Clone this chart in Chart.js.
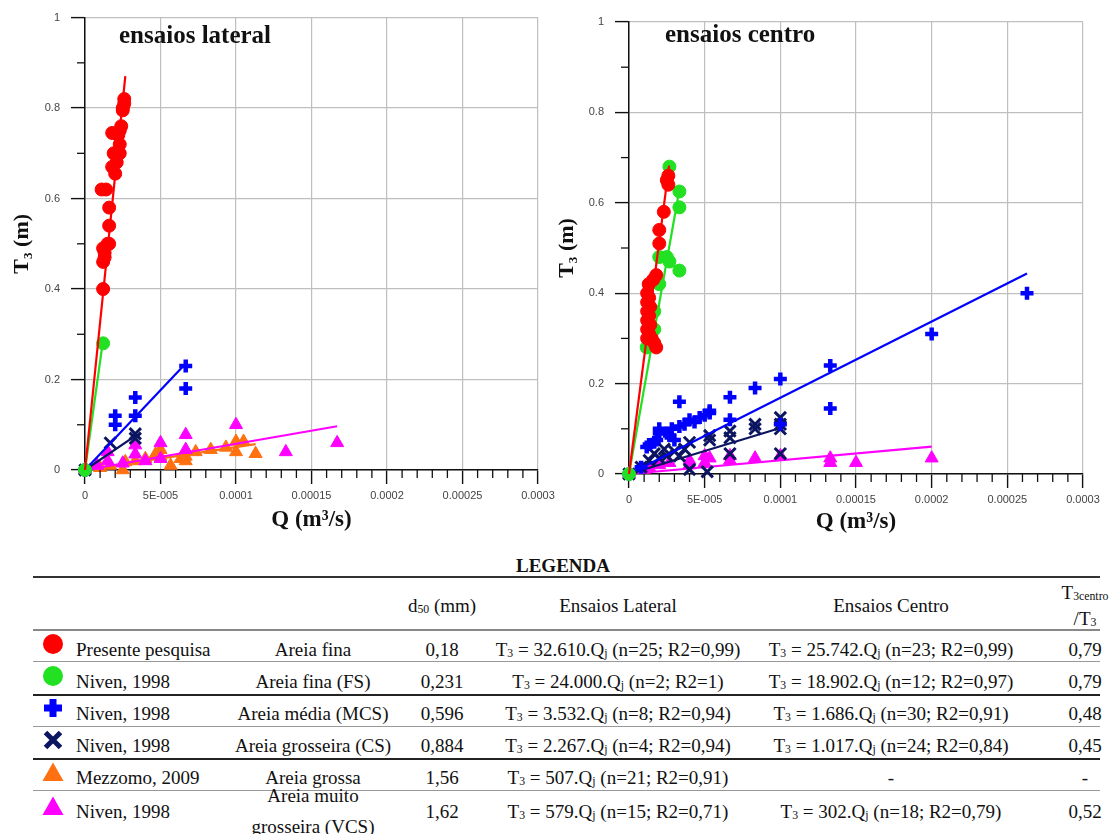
<!DOCTYPE html>
<html><head><meta charset="utf-8">
<script src="https://cdn.jsdelivr.net/npm/chart.js@4.4.1/dist/chart.umd.min.js"></script>
<style>
body{margin:0;background:#fff;width:1109px;height:834px;overflow:hidden;position:relative;font-family:'Liberation Serif','Times New Roman',serif;color:#111}
canvas{position:absolute;top:0}
#cL{left:0}
#cR{left:545px}
.ttl{position:absolute;font-weight:bold;font-size:25px;line-height:25px;white-space:nowrap}
.cell{position:absolute;font-size:19px;line-height:31px;white-space:nowrap;transform:translate(-50%,-50%);text-align:center}
.left{transform:translate(0,-50%);text-align:left}
.rule{position:absolute;left:33px;width:1067px}
sub{font-size:62%;vertical-align:-0.12em;line-height:0}
.mk{position:absolute;transform:translate(-50%,-50%)}
</style></head>
<body>
<canvas id="cL" width="560" height="545"></canvas>
<canvas id="cR" width="564" height="545"></canvas>
<div class="ttl" style="left:119px;top:22px">ensaios lateral</div>
<div class="ttl" style="left:665px;top:21px">ensaios centro</div>
<div id="legend"></div>
<script>
// ---------------- DATA ----------------
const yTickLabels = ['0','0.2','0.4','0.6','0.8','1'];
const xTickLabels = ['0','5E-005','0.0001','0.00015','0.0002','0.00025','0.0003'];

// ensaios lateral  (Q in m3/s, T3 in m)
const latPresenteQ = [1.2e-5,1.2e-5,1.3e-5,1.2e-5,1.5e-5,1.6e-5,1.3e-5,1.6e-5,1.6e-5,1.1e-5,1.4e-5,2.0e-5,1.8e-5,2.1e-5,1.9e-5,2.3e-5,1.8e-5,2.3e-5,2.2e-5,2.4e-5,2.3e-5,2.5e-5,2.6e-5,2.6e-5,2.5e-5];
const latPresenteT = [0.40,0.46,0.47,0.49,0.50,0.50,0.48,0.54,0.58,0.62,0.62,0.655,0.67,0.68,0.70,0.70,0.745,0.72,0.74,0.76,0.75,0.80,0.81,0.82,0.795];
const latFinaQ = [0,1.2e-5];
const latFinaT = [0,0.28];
const latMediaQ = [0,2e-5,2e-5,3.33e-5,3.33e-5,6.67e-5,6.67e-5,0];
const latMediaT = [0,0.12,0.10,0.16,0.12,0.23,0.18,0];
const latGrosseiraQ = [0,1.67e-5,3.33e-5,3.33e-5];
const latGrosseiraT = [0,0.06,0.08,0.07];
const latGrossaQ = [0,1.0e-5,1.67e-5,2.5e-5,2.67e-5,3.33e-5,4.0e-5,4.67e-5,5.0e-5,5.0e-5,5.67e-5,6.33e-5,6.67e-5,6.67e-5,7.33e-5,8.33e-5,9.33e-5,1.0e-4,1.0e-4,1.05e-4,1.13e-4];
const latGrossaT = [0,0.005,0.01,0.0,0.018,0.02,0.025,0.035,0.045,0.03,0.01,0.025,0.02,0.03,0.04,0.045,0.05,0.04,0.063,0.063,0.036];
const latMuitoQ = [0,8e-6,1.5e-5,1.5e-5,2.5e-5,3.33e-5,3.33e-5,5e-5,5e-5,6.67e-5,6.67e-5,1e-4,1.33e-4,1.67e-4,4e-5];
const latMuitoT = [0,0.01,0.02,0.04,0.015,0.055,0.035,0.06,0.025,0.078,0.045,0.10,0.04,0.06,0.02];

// ensaios centro
const cenPresenteQ = [2.6e-5,2.6e-5,2.5e-5,2.3e-5,2.0e-5,2.0e-5,1.8e-5,1.6e-5,1.3e-5,1.2e-5,1.33e-5,1.2e-5,1.4e-5,1.2e-5,1.33e-5,1.2e-5,1.4e-5,1.2e-5,1.33e-5,1.5e-5,1.2e-5,1.8e-5,1.67e-5];
const cenPresenteT = [0.66,0.64,0.65,0.58,0.54,0.51,0.44,0.43,0.42,0.40,0.39,0.38,0.37,0.36,0.35,0.34,0.33,0.32,0.31,0.30,0.30,0.28,0.29];
const cenFinaQ = [0,1.17e-5,1.67e-5,1.67e-5,2e-5,2e-5,2.5e-5,2.67e-5,3.33e-5,3.33e-5,3.33e-5,2.67e-5];
const cenFinaT = [0,0.28,0.32,0.36,0.42,0.48,0.48,0.47,0.45,0.59,0.625,0.68];
const cenMediaQ = [0,1.17e-5,1.33e-5,1.67e-5,1.83e-5,2.0e-5,2.0e-5,2.5e-5,2.67e-5,2.83e-5,3.33e-5,3.33e-5,3.0e-5,3.67e-5,4.0e-5,4.33e-5,4.67e-5,5.0e-5,5.33e-5,5.33e-5,6.67e-5,6.67e-5,8.33e-5,1.0e-4,1.0e-4,1.33e-4,1.33e-4,2.0e-4,2.63e-4,8e-6];
const cenMediaT = [0,0.06,0.065,0.07,0.075,0.10,0.09,0.09,0.085,0.10,0.105,0.16,0.075,0.11,0.12,0.115,0.125,0.13,0.135,0.14,0.12,0.17,0.19,0.21,0.11,0.24,0.145,0.31,0.40,0.015];
const cenGrosseiraQ = [0,8e-6,1.33e-5,1.67e-5,2.0e-5,2.33e-5,2.5e-5,3.0e-5,3.33e-5,3.67e-5,4.0e-5,4.0e-5,5.33e-5,5.33e-5,5.17e-5,6.67e-5,6.67e-5,6.67e-5,8.33e-5,8.33e-5,1.0e-4,1.0e-4,1.0e-4,1.0e-4];
const cenGrosseiraT = [0,0.015,0.03,0.045,0.035,0.055,0.04,0.05,0.04,0.055,0.07,0.01,0.085,0.075,0.005,0.095,0.08,0.045,0.11,0.10,0.125,0.11,0.10,0.045];
const cenMuitoQ = [0,1e-5,1.33e-5,2e-5,2.67e-5,4e-5,4e-5,5e-5,5.33e-5,5e-5,6.67e-5,6.67e-5,8.33e-5,1e-4,1.33e-4,1.33e-4,1.5e-4,2e-4];
const cenMuitoT = [0,0.01,0.015,0.02,0.025,0.03,0.02,0.04,0.035,0.025,0.04,0.03,0.035,0.04,0.035,0.025,0.025,0.035];

// regression lines T3 = a.Q (from the legend) and Q extent of each drawn line
const lateralSlope  = [32610, 24000, 3532, 2267, 507, 579];
const lateralFitQmax = [2.67e-5, 1.17e-5, 6.67e-5, 3.33e-5, 1.13e-4, 1.67e-4];
const centroSlope   = [25742, 18902, 1686, 1017, null, 302];
const centroFitQmax = [2.65e-5, 3.33e-5, 2.63e-4, 1.0e-4, null, 2.0e-4];

// legend table text
const legendSource = ['Presente pesquisa','Niven, 1998','Niven, 1998','Niven, 1998','Mezzomo, 2009','Niven, 1998'];
const legendSoil = ['Areia fina','Areia fina (FS)','Areia média (MCS)','Areia grosseira (CS)','Areia grossa','Areia muito<br>grosseira (VCS)'];
const legendD50 = ['0,18','0,231','0,596','0,884','1,56','1,62'];
const lateralCoef = ['32.610','24.000','3.532','2.267','507','579'];
const lateralN = [25,2,8,4,21,15];
const lateralR2 = ['0,99','1','0,94','0,94','0,91','0,71'];
const centroCoef = ['25.742','18.902','1.686','1.017',null,'302'];
const centroN = [23,12,30,24,null,18];
const centroR2 = ['0,99','0,97','0,91','0,84',null,'0,79'];
const ratioCentroLateral = ['0,79','0,79','0,48','0,45','-','0,52'];

// ---------------- STYLE ----------------
const STY = [
  {color:'#ff0000', shape:'circle',   r:6.5, bw:1},
  {color:'#22e022', shape:'circle',   r:6.5, bw:1},
  {color:'#0000ff', shape:'cross',    r:6.5, bw:4.5},
  {color:'#0c1560', shape:'crossRot', r:8,   bw:3},
  {color:'#ff7010', shape:'triangle', r:7.5, bw:1},
  {color:'#ff00ff', shape:'triangle', r:7.5, bw:1}
];
const DRAW_ORDER = [0,1,2,3,5,4];
const GRID = '#bfbfbf';
const isMajorX = v => Math.round(v*1e5) % 5 === 0;
const isMajorY = v => Math.round(v*10) % 2 === 0;

const minorTicks = {
  id:'minorTicks',
  afterDraw(chart){
    const c = chart.ctx, a = chart.chartArea, sx = chart.scales.x, sy = chart.scales.y;
    c.save(); c.strokeStyle = '#111'; c.lineWidth = 1.3;
    sx.ticks.forEach(t => { if (!isMajorX(t.value)) { const p = sx.getPixelForValue(t.value); c.beginPath(); c.moveTo(p, a.bottom); c.lineTo(p, a.bottom + 8); c.stroke(); } });
    sy.ticks.forEach(t => { if (!isMajorY(t.value)) { const p = sy.getPixelForValue(t.value); c.beginPath(); c.moveTo(a.left - 8, p); c.lineTo(a.left, p); c.stroke(); } });
    c.restore();
  }
};

function pts(qs, ts){ return qs.map((q,i) => ({x:q, y:ts[i]})); }

function build(id, series, slopes, qmax, p){
  const ds = [];
  DRAW_ORDER.forEach(k => {
    const s = STY[k];
    ds.push({data: pts(series[k][0], series[k][1]), pointStyle: s.shape, pointRadius: s.r, pointHoverRadius: s.r,
      backgroundColor: s.color, borderColor: s.color, borderWidth: s.bw, showLine:false, clip:false});
    if (slopes[k] != null) {
      ds.push({data:[{x:0,y:0},{x:qmax[k], y:slopes[k]*qmax[k]}], showLine:true, borderColor:s.color,
        borderWidth:2.2, pointRadius:0, fill:false, clip:false});
    }
  });
  return new Chart(document.getElementById(id), {
    type:'scatter',
    data:{datasets: ds},
    plugins:[minorTicks],
    options:{
      responsive:false, animation:false, events:[],
      layout:{padding:{left:0, top:p.top, right:p.right, bottom:0}},
      plugins:{legend:{display:false}, tooltip:{enabled:false}},
      scales:{
        x:{type:'linear', position:'bottom', min:0, max:3e-4,
          afterFit: s => { s.height = p.xH; },
          border:{display:true, color:'#111', width:1.5},
          grid:{color: c => isMajorX(c.tick.value) ? GRID : 'rgba(0,0,0,0)', lineWidth:1.2,
                tickLength:14, tickWidth:1.4, tickColor: c => isMajorX(c.tick.value) ? '#111' : 'rgba(0,0,0,0)'},
          ticks:{stepSize:1e-5, autoSkip:false, maxRotation:0, minRotation:0, padding:5, color:'#444',
                 font:{family:'Liberation Sans', size:11},
                 callback: v => isMajorX(v) ? xTickLabels[Math.round(v*1e5)/5] : ''},
          title:{display:true, text:'Q (m³/s)', color:'#111',
                 font:{family:'Liberation Serif', size:23, weight:'bold'}, padding:{top:0,bottom:p.xTitlePad}}
        },
        y:{type:'linear', min:0, max:1,
          afterFit: s => { s.width = p.yW; },
          border:{display:true, color:'#111', width:1.5},
          grid:{color: c => isMajorY(c.tick.value) ? GRID : 'rgba(0,0,0,0)', lineWidth:1.2,
                tickLength:14, tickWidth:1.4, tickColor: c => isMajorY(c.tick.value) ? '#111' : 'rgba(0,0,0,0)'},
          ticks:{stepSize:0.1, autoSkip:false, padding:11, color:'#444',
                 font:{family:'Liberation Sans', size:11},
                 callback: v => isMajorY(v) ? yTickLabels[Math.round(v*5)] : ''},
          title:{display:true, text:'T₃ (m)', color:'#111',
                 font:{family:'Liberation Serif', size:22, weight:'bold'}, padding:{top:9,bottom:0}}
        }
      }
    }
  });
}

build('cL',
  [[latPresenteQ,latPresenteT],[latFinaQ,latFinaT],[latMediaQ,latMediaT],[latGrosseiraQ,latGrosseiraT],[latGrossaQ,latGrossaT],[latMuitoQ,latMuitoT]],
  lateralSlope, lateralFitQmax, {top:17, right:22, xH:75, yW:85, xTitlePad:11});
build('cR',
  [[cenPresenteQ,cenPresenteT],[cenFinaQ,cenFinaT],[cenMediaQ,cenMediaT],[cenGrosseiraQ,cenGrosseiraT],[[],[]],[cenMuitoQ,cenMuitoT]],
  centroSlope, centroFitQmax, {top:22, right:26, xH:71, yW:84, xTitlePad:9});

// ---------------- LEGEND TABLE ----------------
const ROW_Y = [649, 681, 713, 745, 777, 811];
const COL = {marker:53, name:76, soil:313, d50:442, lat:618, cen:891, ratio:1085};
function marker(k){
  const c = STY[k].color, s = STY[k].shape;
  let inner;
  if (s === 'circle') inner = `<circle cx="11" cy="11" r="10" fill="${c}"/>`;
  else if (s === 'cross') inner = `<path d="M11 2V20M2 11H20" stroke="${c}" stroke-width="7"/>`;
  else if (s === 'crossRot') inner = `<path d="M3.5 3.5L18.5 18.5M18.5 3.5L3.5 18.5" stroke="${c}" stroke-width="5"/>`;
  else inner = `<polygon points="11,1.5 21.5,20 0.5,20" fill="${c}"/>`;
  return `<svg width="22" height="22" viewBox="0 0 22 22">${inner}</svg>`;
}
const cell = (x,y,html,cls='') => `<div class="cell ${cls}" style="left:${x}px;top:${y}px">${html}</div>`;
let h = '';
h += cell(563, 565, '<b>LEGENDA</b>');
const rules = [[576,2,'#333'],[629,1.5,'#888'],[661,1.2,'#999'],[694,2,'#222'],[726,1.2,'#999'],[758,2,'#222'],[790,1.2,'#999']];
rules.forEach(r => { h += `<div class="rule" style="top:${r[0]}px;height:${r[1]}px;background:${r[2]}"></div>`; });
h += cell(COL.d50, 605, 'd<sub>50</sub> (mm)');
h += cell(COL.lat, 605, 'Ensaios Lateral');
h += cell(COL.cen, 605, 'Ensaios Centro');
h += cell(COL.ratio, 592, 'T<sub>3centro</sub>');
h += cell(COL.ratio, 618, '/T<sub>3</sub>');
for (let i = 0; i < 6; i++) {
  const y = ROW_Y[i];
  h += `<div class="mk" style="left:${COL.marker}px;top:${y-3}px">${marker(i)}</div>`;
  h += cell(COL.name, y, legendSource[i], 'left');
  h += cell(COL.soil, y, legendSoil[i]);
  h += cell(COL.d50, y, legendD50[i]);
  h += cell(COL.lat, y, `T<sub>3</sub> = ${lateralCoef[i]}.Q<sub>j</sub> (n=${lateralN[i]}; R2=${lateralR2[i]})`);
  h += cell(COL.cen, y, centroCoef[i] ? `T<sub>3</sub> = ${centroCoef[i]}.Q<sub>j</sub> (n=${centroN[i]}; R2=${centroR2[i]})` : '-');
  h += cell(COL.ratio, y, ratioCentroLateral[i]);
}
document.getElementById('legend').innerHTML = h;
</script>
</body></html>
